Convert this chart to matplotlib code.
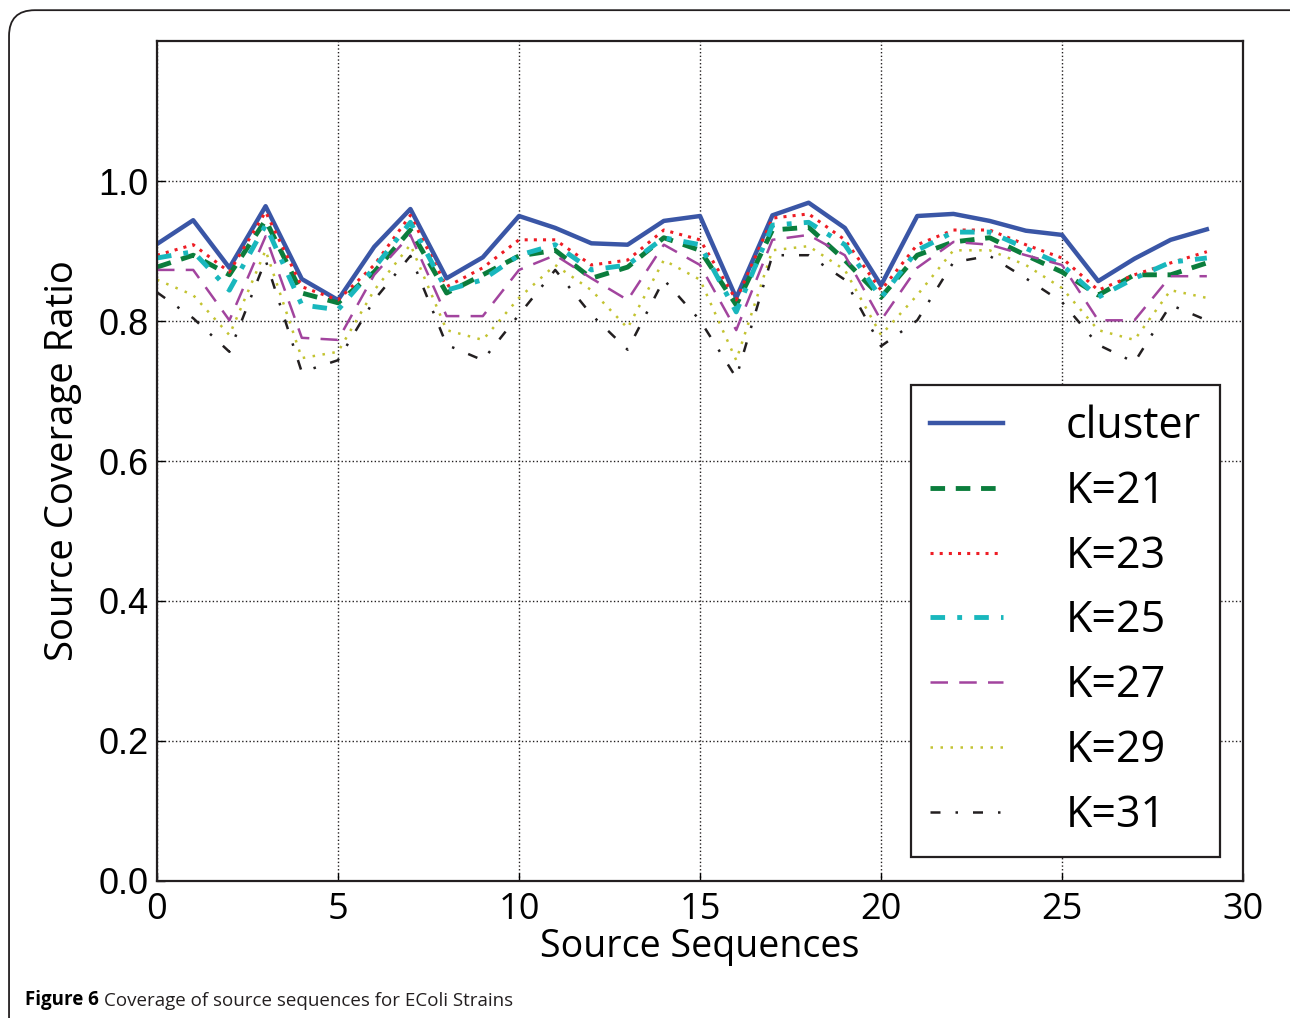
import matplotlib
matplotlib.use("Agg")
import matplotlib.pyplot as plt
from matplotlib.patches import FancyBboxPatch

plt.rcParams['font.family'] = ['Open Sans', 'DejaVu Sans']

# source sequence index
seqs = list(range(30))

cluster = [0.910, 0.944, 0.876, 0.964, 0.860, 0.830, 0.906, 0.960, 0.861, 0.891,
           0.950, 0.933, 0.911, 0.909, 0.943, 0.950, 0.833, 0.951, 0.969, 0.933,
           0.851, 0.950, 0.953, 0.943, 0.929, 0.923, 0.857, 0.889, 0.916, 0.931]
k21 = [0.877, 0.894, 0.866, 0.944, 0.840, 0.826, 0.870, 0.930, 0.840, 0.866,
       0.893, 0.901, 0.861, 0.877, 0.919, 0.901, 0.823, 0.930, 0.934, 0.887,
       0.834, 0.894, 0.913, 0.919, 0.894, 0.870, 0.837, 0.866, 0.866, 0.883]
k23 = [0.894, 0.909, 0.870, 0.956, 0.849, 0.830, 0.880, 0.951, 0.849, 0.876,
       0.916, 0.916, 0.880, 0.887, 0.930, 0.916, 0.830, 0.947, 0.953, 0.916,
       0.844, 0.909, 0.930, 0.930, 0.909, 0.890, 0.844, 0.866, 0.883, 0.899]
k25 = [0.890, 0.899, 0.844, 0.937, 0.823, 0.816, 0.876, 0.941, 0.844, 0.859,
       0.894, 0.909, 0.873, 0.880, 0.919, 0.909, 0.813, 0.937, 0.941, 0.909,
       0.833, 0.901, 0.927, 0.927, 0.904, 0.880, 0.834, 0.861, 0.884, 0.890]
k27 = [0.873, 0.873, 0.801, 0.921, 0.776, 0.773, 0.866, 0.923, 0.807, 0.807,
       0.873, 0.894, 0.861, 0.830, 0.909, 0.880, 0.787, 0.916, 0.923, 0.894,
       0.801, 0.876, 0.913, 0.909, 0.894, 0.880, 0.801, 0.801, 0.864, 0.864]
k29 = [0.859, 0.837, 0.780, 0.901, 0.747, 0.756, 0.844, 0.909, 0.787, 0.773,
       0.833, 0.880, 0.844, 0.790, 0.887, 0.859, 0.744, 0.901, 0.907, 0.873,
       0.780, 0.837, 0.901, 0.901, 0.880, 0.847, 0.787, 0.773, 0.844, 0.833]
k31 = [0.841, 0.804, 0.756, 0.887, 0.727, 0.744, 0.830, 0.893, 0.766, 0.744,
       0.809, 0.873, 0.809, 0.759, 0.859, 0.801, 0.719, 0.894, 0.894, 0.859,
       0.764, 0.801, 0.884, 0.893, 0.861, 0.827, 0.766, 0.741, 0.823, 0.801]

fig = plt.figure(figsize=(12.9, 10.18), dpi=100)
ax = fig.add_axes([0.1217, 0.1346, 0.8419, 0.8251])

ax.plot(seqs, cluster, color='#3a56a6', lw=3.2, ls='-', label='cluster')
ax.plot(seqs, k21, color='#0b7d3c', lw=3.5, ls=(0, (3, 2.2)), label='K=21')
ax.plot(seqs, k23, color='#ee1c24', lw=2.2, ls=(0, (1, 2)), label='K=23')
ax.plot(seqs, k25, color='#19b7bd', lw=3.5, ls=(0, (3, 2.5, 1, 2.5)), label='K=25')
ax.plot(seqs, k27, color='#a2449e', lw=1.8, ls=(0, (7, 4.5)), label='K=27')
ax.plot(seqs, k29, color='#c3c331', lw=1.8, ls=(0, (1, 3)), label='K=29')
ax.plot(seqs, k31, color='#231f20', lw=1.8, ls=(0, (4, 6, 1, 6)), label='K=31')

ax.set_xlim(0, 30)
ax.set_ylim(0, 1.2)
ax.set_xticks([0, 5, 10, 15, 20, 25, 30])
ax.set_yticks([0.0, 0.2, 0.4, 0.6, 0.8, 1.0])
ax.set_yticklabels(['0.0', '0.2', '0.4', '0.6', '0.8', '1.0'], family='Liberation Sans')
ax.tick_params(labelsize=26, length=6, width=1, direction='in', pad=6)
ax.tick_params(axis='x', pad=8)
ax.grid(True, ls=':', color='#231f20', lw=1)
for s in ax.spines.values():
    s.set_linewidth(1.6)
    s.set_color('#231f20')

ax.set_xlabel('Source Sequences', fontsize=27, labelpad=0)
ax.set_ylabel('Source Coverage Ratio', fontsize=27.5, labelpad=12)

leg = ax.legend(loc='lower right', fontsize=31, fancybox=False, framealpha=1,
                edgecolor='#231f20', handlelength=1.7, handletextpad=1.45,
                borderpad=0.45, labelspacing=0.47, borderaxespad=0,
                bbox_to_anchor=(0.979, 0.0286))
leg.get_frame().set_linewidth(1.6)

# rounded panel frame and caption
frame = FancyBboxPatch((0.007, -0.1), 1.2, 1.09, boxstyle='round,pad=0,rounding_size=0.02',
                       transform=fig.transFigure, fill=False, ec='#231f20', lw=1.3,
                       mutation_aspect=1290 / 1018)
fig.patches.append(frame)
t1 = fig.text(0.019, 0.0125, 'Figure 6', fontsize=13.5, fontweight='bold', va='baseline')
fig.add_artist(plt.Annotation('Coverage of source sequences for EColi Strains',
                              xy=(1, 0), xycoords=t1, xytext=(4, 0),
                              textcoords='offset points', fontsize=13.5,
                              va='bottom', color='#231f20'))

fig.savefig('out.png', dpi=100)
